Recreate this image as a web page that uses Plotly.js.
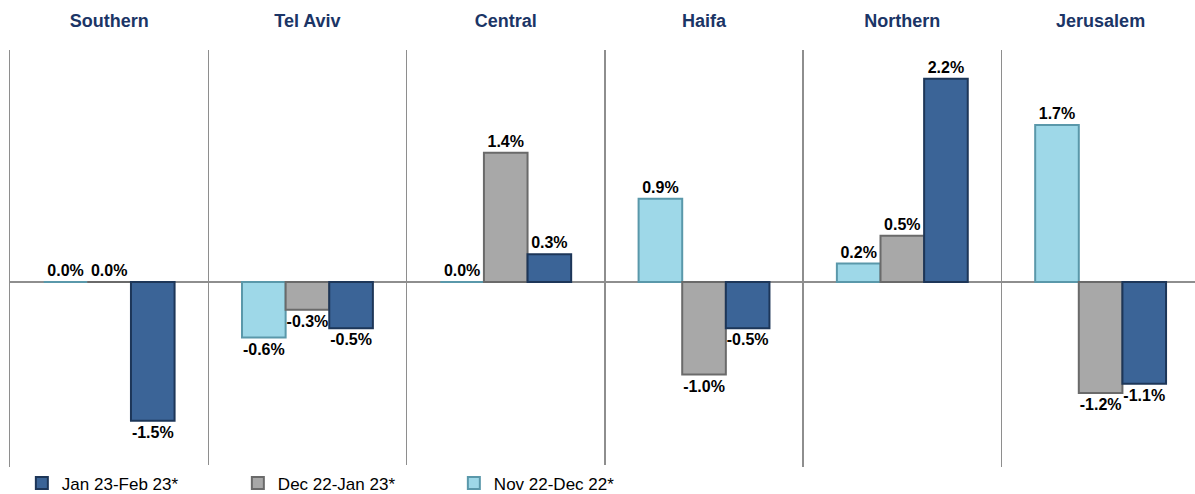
<!DOCTYPE html>
<html>
<head>
<meta charset="utf-8">
<script src="https://cdn.plot.ly/plotly-3.0.1.min.js"></script>
<style>html,body{margin:0;padding:0;background:#fff;}#chart{width:1195px;height:494px;}</style>
</head>
<body>
<div id="chart"></div>
<script>
const regions = ["Southern", "Tel Aviv", "Central", "Haifa", "Northern", "Jerusalem"];
const seriesNames = ["Nov 22-Dec 22*", "Dec 22-Jan 23*", "Jan 23-Feb 23*"];
const novDec = [0.0, -0.6, 0.0, 0.9, 0.2, 1.7];
const decJan = [0.0, -0.3, 1.4, -1.0, 0.5, -1.2];
const janFeb = [-1.5, -0.5, 0.3, -0.5, 2.2, -1.1];

const fills = ["#9ed8e8", "#a8a8a8", "#3b6497"];
const edges = ["#5a98aa", "#6a6a6a", "#1d3658"];
const values = [novDec, decJan, janFeb];

const traces = values.map((v, i) => ({
  type: "bar",
  name: seriesNames[i],
  x: regions,
  y: v,
  marker: { color: fills[i], line: { color: edges[i], width: 2 } },
  texttemplate: "%{y:.1f}%",
  textposition: "outside",
  constraintext: "none",
  cliponaxis: false,
  textfont: { family: "Liberation Sans, Arial, sans-serif", size: 16, color: "#000", weight: "bold" },
  hoverinfo: "skip"
}));

const layout = {
  width: 1195,
  height: 494,
  paper_bgcolor: "#fff",
  plot_bgcolor: "#fff",
  margin: { l: 10, r: 0, t: 50, b: 27, autoexpand: false },
  barmode: "group",
  bargap: 0.34,
  bargroupgap: 0,
  showlegend: true,
  legend: {
    orientation: "h",
    traceorder: "reversed",
    x: 0.01,
    xanchor: "left",
    y: 0.004,
    yanchor: "top",
    entrywidth: 171,
    entrywidthmode: "pixels",
    itemwidth: 30,
    font: { family: "Liberation Sans, Arial, sans-serif", size: 17, color: "#000" },
    itemclick: false
  },
  xaxis: {
    type: "category",
    side: "top",
    range: [-0.5, 5.476],
    tickson: "boundaries",
    ticks: "",
    showgrid: true,
    gridcolor: "#8e8e8e",
    gridwidth: 1.5,
    showline: false,
    zeroline: false,
    ticklabelstandoff: 18,
    tickfont: { family: "Liberation Sans, Arial, sans-serif", size: 18, color: "#1b3566", weight: "bold" },
    fixedrange: true
  },
  yaxis: {
    range: [-2.0, 2.51],
    showticklabels: false,
    ticks: "",
    showgrid: false,
    zeroline: true,
    zerolinecolor: "#8e8e8e",
    zerolinewidth: 1.5,
    showline: true,
    linecolor: "#8e8e8e",
    linewidth: 1.5,
    fixedrange: true
  }
};

Plotly.newPlot("chart", traces, layout, { staticPlot: true, displayModeBar: false });
</script>
</body>
</html>
